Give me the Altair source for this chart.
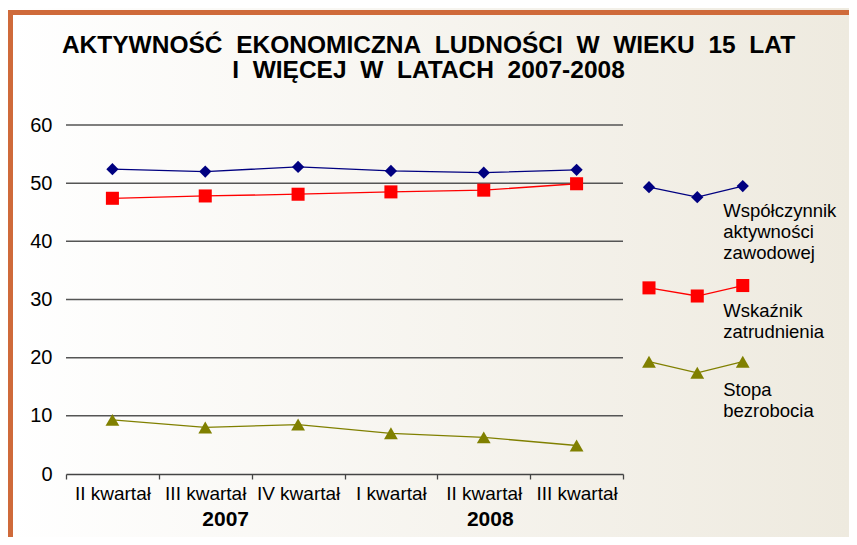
import altair as alt
import pandas as pd

# ---------------- data ----------------
quarters = ["II kwartał", "III kwartał", "IV kwartał", "I kwartał", "II kwartał", "III kwartał"]
years = ["2007", "2008"]
year_pos = [1.72, 4.57]          # position on the quarter axis (in quarter units)
series_names = ["Współczynnik aktywności zawodowej", "Wskaźnik zatrudnienia", "Stopa bezrobocia"]
activity = [52.4, 52.0, 52.8, 52.1, 51.8, 52.3]
employment = [47.4, 47.8, 48.1, 48.5, 48.8, 49.9]
unemployment = [9.3, 8.0, 8.5, 7.0, 6.3, 4.9]
y_ticks = [0, 10, 20, 30, 40, 50, 60]

colors = ["#000080", "#ff0000", "#808000"]
shapes = ["diamond", "square", "triangle-up"]
sizes = [150, 190, 175]

# hand-drawn style legend (zig-zag samples) placed right of the plot
legend_x = [6.28, 6.80, 7.29]
legend_y = [[49.3, 47.6, 49.5], [32.0, 30.6, 32.4], [19.3, 17.4, 19.3]]
legend_lines = [["Współczynnik", "aktywności", "zawodowej"], ["Wskaźnik", "zatrudnienia"], ["Stopa", "bezrobocia"]]
legend_label_x = 7.08
legend_label_y = [46.8, 29.6, 16.0]

title_lines = ["AKTYWNOŚĆ EKONOMICZNA LUDNOŚCI W WIEKU 15 LAT", "I WIĘCEJ W LATACH 2007-2008"]
title_lines = [t.replace(" ", "\u00a0 ") for t in title_lines]

# ---------------- tables ----------------
values = [activity, employment, unemployment]
main_df = pd.DataFrame([
    {"x": i + 0.5, "y": v, "series": s}
    for s, vals in zip(series_names, values)
    for i, v in enumerate(vals)
])
leg_df = pd.DataFrame([
    {"x": lx, "y": ly, "series": s}
    for s, ys in zip(series_names, legend_y)
    for lx, ly in zip(legend_x, ys)
])
leg_txt_df = pd.DataFrame([
    {"x": legend_label_x, "y": ly, "label": "\n".join(lines)}
    for lines, ly in zip(legend_lines, legend_label_y)
])
year_df = pd.DataFrame({"x": year_pos, "y": [0, 0], "label": years})
grid_df = pd.DataFrame({"y": y_ticks[1:]})

FONT = "Liberation Sans"
W, H = 557, 349
PL, PT, PR, PB = 58, 117, 226, 63

label_arr = []
for i in range(13):
    label_arr.append(quarters[i // 2] if i % 2 == 1 else "")
label_expr = "[" + ",".join("'" + l + "'" for l in label_arr) + "][round(datum.value*2)]"

xscale = alt.Scale(domain=[0, 6], nice=False, zero=False)
yscale = alt.Scale(domain=[0, 60], nice=False)

xaxis = alt.Axis(
    values=[i / 2 for i in range(13)], labelExpr=label_expr, title=None, grid=False,
    labelOverlap=False, labelFlush=False, labelFont=FONT, labelFontSize=19, labelColor="#000",
    labelPadding=5, tickSize=5, tickColor="#444", tickWidth=1.3,
    tickOpacity={"condition": {"test": "round(datum.value*2) % 2 == 0", "value": 1}, "value": 0},
    domainColor="#444", domainWidth=1.5, zindex=1,
)
yaxis = alt.Axis(
    values=y_ticks, title=None, grid=False, domain=False, ticks=False,
    labelFont=FONT, labelFontSize=20, labelColor="#000", labelPadding=14, zindex=1,
)

X = alt.X("x:Q", scale=xscale, axis=xaxis)
Y = alt.Y("y:Q", scale=yscale, axis=yaxis)
color = alt.Color("series:N", scale=alt.Scale(domain=series_names, range=colors), legend=None)
shape = alt.Shape("series:N", scale=alt.Scale(domain=series_names, range=shapes), legend=None)
size = alt.Size("series:N", scale=alt.Scale(domain=series_names, range=sizes), legend=None)

# decorations: page background gradient and orange frame
bg = alt.Chart(alt.Data(values=[{}])).mark_rect(
    fill=alt.Gradient(gradient="linear", x1=0, x2=1, y1=0, y2=0,
                      stops=[alt.GradientStop(color="#ffffff", offset=0),
                             alt.GradientStop(color="#eeeadf", offset=1)])
).encode(x=alt.value(-PL), x2=alt.value(W + PR), y=alt.value(-PT), y2=alt.value(H + PB))
frame_top = alt.Chart(alt.Data(values=[{}])).mark_rect(fill="#cf6a3a").encode(
    x=alt.value(-PL), x2=alt.value(W + PR), y=alt.value(-PT + 2), y2=alt.value(-PT + 7))
frame_left = alt.Chart(alt.Data(values=[{}])).mark_rect(fill="#cf6a3a").encode(
    x=alt.value(-PL), x2=alt.value(-PL + 5), y=alt.value(-PT + 2), y2=alt.value(H + PB))

grid = alt.Chart(grid_df).mark_rule(color="#555", strokeWidth=1.5).encode(
    x=alt.datum(0), x2=alt.datum(6), y=Y)

lines = alt.Chart(main_df).mark_line(strokeWidth=1.3).encode(x=X, y=Y, color=color, detail="series:N")
points = alt.Chart(main_df).mark_point(filled=True, opacity=1).encode(x=X, y=Y, color=color, shape=shape, size=size)

leg_lines = alt.Chart(leg_df).mark_line(strokeWidth=1.3).encode(x=X, y=Y, color=color, detail="series:N")
leg_points = alt.Chart(leg_df).mark_point(filled=True, opacity=1).encode(x=X, y=Y, color=color, shape=shape, size=size)
leg_text = alt.Chart(leg_txt_df).mark_text(
    align="left", baseline="top", font=FONT, fontSize=18.5, lineBreak="\n", lineHeight=21, color="#000"
).encode(x=X, y=Y, text="label:N")

year_text = alt.Chart(year_df).mark_text(
    align="center", baseline="middle", font=FONT, fontSize=21, fontWeight="bold", dy=46, color="#000"
).encode(x=X, y=Y, text="label:N")

chart = alt.layer(
    bg, frame_top, frame_left, grid, lines, points, leg_lines, leg_points, leg_text, year_text
).properties(
    width=W, height=H,
    autosize=alt.AutoSizeParams(type="none"),
    padding={"left": PL, "top": PT, "right": PR, "bottom": PB},
    title=alt.TitleParams(
        title_lines, font=FONT, fontSize=24.5, fontWeight="bold", color="#000",
        anchor="middle", frame="group", dx=84, offset=-75, lineHeight=25,
    ),
).configure_view(stroke=None).configure(background="white")

chart.save("out.html", embed_options={"renderer": "svg", "actions": False})
